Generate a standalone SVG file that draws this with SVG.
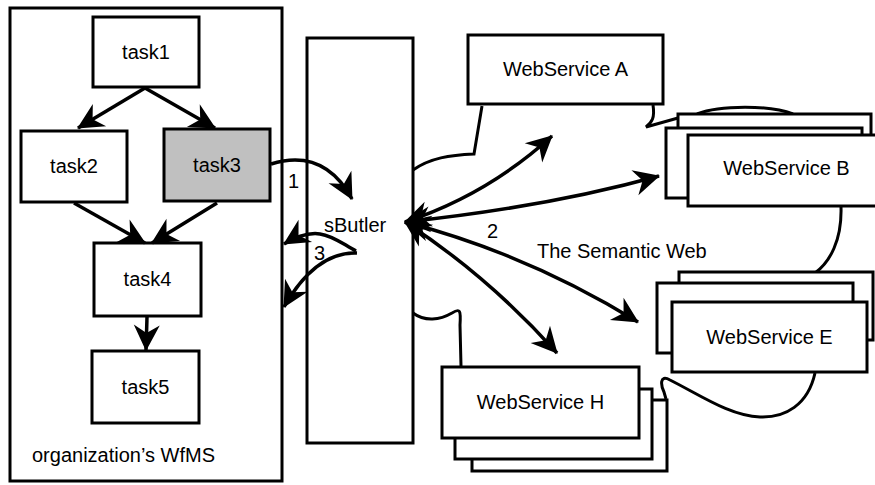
<svg xmlns="http://www.w3.org/2000/svg" width="875" height="485" viewBox="0 0 875 485">
<defs>
<style>
.box{fill:#fff;stroke:#000;stroke-width:3}
.gray{fill:#c0c0c0;stroke:#000;stroke-width:3}
.t{font-family:"Liberation Sans",Arial,sans-serif;font-size:20px;fill:#000}
.c{text-anchor:middle}
.ln{fill:none;stroke:#000;stroke-width:3}
.arr{fill:none;stroke:#000;stroke-width:3.5;marker-end:url(#ah)}
.arr2{fill:none;stroke:#000;stroke-width:3.5;marker-start:url(#ah);marker-end:url(#ah)}
</style>
<marker id="ah" markerUnits="userSpaceOnUse" viewBox="-26 -15 29 30" refX="1" refY="0" markerWidth="29" markerHeight="30" orient="auto-start-reverse">
<path d="M2,0 L-24,-13 L-16,0 L-24,13 Z" fill="#000"/>
</marker>
</defs>
<g id="cloud">
<path class="ln" d="M413,170 C430,158 450,155 474,154 L482,106"/>
<path class="ln" d="M653,105 C655,118 652,122 646,127 L678,118"/>
<path class="ln" d="M697,114 C720,105 770,105 793,114"/>
<path class="ln" d="M841,207 C842,240 830,262 815,273"/>
<path class="ln" d="M815,373 C808,405 785,418 760,417 C730,416 700,395 670,380 C659,374 661,386 664,392 L666,399"/>
<path class="ln" d="M413,313 C425,322 440,320 452,313 C460,308 461,310 460,325 L461,366"/>
</g>
<g id="wfms">
<rect class="box" x="10" y="8" width="272" height="473"/>
<text class="t" x="32" y="462">organization’s WfMS</text>
</g>
<g id="task1"><rect class="box" x="93" y="17" width="106" height="70"/><text class="t c" x="146" y="59">task1</text></g>
<g id="task2"><rect class="box" x="21" y="131" width="106" height="71"/><text class="t c" x="74" y="173">task2</text></g>
<g id="task3"><rect class="gray" x="164" y="129" width="106" height="72"/><text class="t c" x="217" y="172">task3</text></g>
<g id="task4"><rect class="box" x="94" y="243" width="107" height="73"/><text class="t c" x="147.5" y="286">task4</text></g>
<g id="task5"><rect class="box" x="92" y="351" width="107" height="72"/><text class="t c" x="145.5" y="394">task5</text></g>
<g id="sButler"><rect class="box" x="307" y="38" width="106" height="405"/><text class="t" x="324" y="232">sButler</text></g>
<g id="wsA"><rect class="box" x="468" y="35" width="195" height="69"/><text class="t c" x="565.5" y="76">WebService A</text></g>
<g id="wsB">
<rect class="box" x="678" y="114" width="193" height="60"/>
<rect class="box" x="666" y="128" width="196" height="70"/>
<rect class="box" x="688" y="135" width="197" height="71"/>
<text class="t c" x="786.5" y="175">WebService B</text>
</g>
<g id="wsE">
<rect class="box" x="679" y="272" width="194" height="68"/>
<rect class="box" x="657" y="283" width="196" height="70"/>
<rect class="box" x="672" y="302" width="195" height="70"/>
<text class="t c" x="769.5" y="344">WebService E</text>
</g>
<g id="wsH">
<rect class="box" x="472" y="400" width="195" height="71"/>
<rect class="box" x="455" y="389" width="197" height="70"/>
<rect class="box" x="442" y="367" width="197" height="71"/>
<text class="t c" x="540.5" y="409">WebService H</text>
</g>
<g id="connectors">
<path class="arr" d="M145,88 L78,128"/>
<path class="arr" d="M145,88 L215,128"/>
<path class="arr" d="M74,203 L145,243"/>
<path class="arr" d="M217,203 L152,243"/>
<path class="arr" d="M147,317 L146,350"/>
<path class="arr" d="M271,164 C310,152 335,168 352,199"/>
<path class="arr" d="M356,251 C335,240 320,222 284,244"/>
<path class="arr" d="M357,253 C330,252 305,270 284,307"/>
<path class="arr2" d="M405,222 Q487,195 552,136"/>
<path class="arr2" d="M405,222 Q547,207 659,176"/>
<path class="arr2" d="M405,222 Q528,254 638,322"/>
<path class="arr2" d="M405,222 Q488,276 557,353"/>
<text class="t" x="288" y="188">1</text>
<text class="t" x="487" y="238">2</text>
<text class="t" x="314" y="260">3</text>
<text class="t" x="537" y="258">The Semantic Web</text>
</g>
</svg>
